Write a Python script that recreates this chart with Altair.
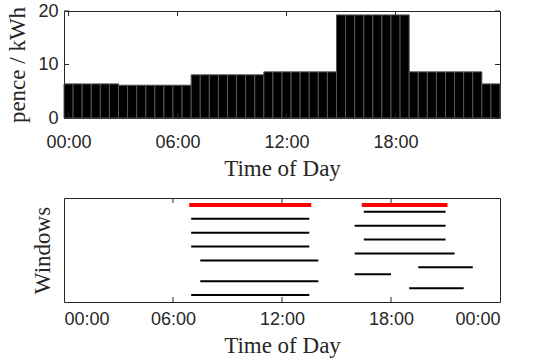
import altair as alt
import pandas as pd

# ---- data ----
# half-hourly price bars (bar centres, hours) and prices (pence/kWh)
bar_hours = [i * 0.5 for i in range(48)]
prices = ([6.37] * 6 + [6.13] * 8 + [8.07] * 8 + [8.63] * 8 +
          [19.27] * 8 + [8.63] * 8 + [6.37] * 2)

# charging windows (start hour, end hour, row, kind)
win_start = [7.0, 16.5, 16.5, 7.0, 16.0, 7.0, 16.5, 7.0, 16.0, 7.5, 19.5, 16.0, 7.5, 19.0, 7.0]
win_end   = [13.5, 21.0, 21.0, 13.5, 21.0, 13.5, 21.0, 13.5, 21.5, 14.0, 22.5, 18.0, 14.0, 22.0, 13.5]
win_row   = [14, 14, 13, 12, 11, 10, 9, 8, 7, 6, 5, 4, 3, 2, 1]
win_kind  = ["opt", "opt"] + ["ev"] * 13

top_ticks = [0, 6, 12, 18]
top_yticks = [0, 10, 20]
bot_ticks = [0, 6, 12, 18, 24]
bot_inner = [6, 12, 18]

FRAME = "#262626"
W = 436
H1, H2 = 107, 104
label_expr = "(datum.value % 24 < 10 ? '0' : '') + (datum.value % 24) + ':00'"
SANS = "Liberation Sans"
SERIF = "Liberation Serif"

bars = pd.DataFrame({"t": bar_hours, "p": prices})
bars["t0"] = bars["t"] - 0.25
bars["t1"] = bars["t"] + 0.25

xs_top = alt.Scale(domain=[-0.25, 23.75], nice=False, zero=False)
ys_top = alt.Scale(domain=[0, 20], nice=False)

x_axis_top = alt.Axis(values=top_ticks, labelExpr=label_expr, ticks=False, domain=False,
                      grid=False, labelPadding=15, title="Time of Day", titlePadding=6)

top_bars = alt.Chart(bars).mark_rect(color="black", stroke="#555555", strokeWidth=1).encode(
    x=alt.X("t0:Q", scale=xs_top, axis=x_axis_top),
    x2="t1",
    y=alt.Y("p:Q", scale=ys_top,
            axis=alt.Axis(values=top_yticks, ticks=False, domain=False, grid=False,
                          labelPadding=6, title="pence / kWh", titlePadding=8)),
    y2=alt.datum(0),
)

tx = pd.DataFrame({"t": top_ticks})
ty = pd.DataFrame({"v": top_yticks})
tick_style = dict(color=FRAME, strokeWidth=1)
top_xt_b = alt.Chart(tx).mark_rule(**tick_style).encode(
    x=alt.X("t:Q", scale=xs_top), y=alt.value(H1), y2=alt.value(H1 - 5))
top_xt_t = alt.Chart(tx).mark_rule(**tick_style).encode(
    x=alt.X("t:Q", scale=xs_top), y=alt.value(0), y2=alt.value(5))
top_yt_l = alt.Chart(ty).mark_rule(**tick_style).encode(
    y=alt.Y("v:Q", scale=ys_top), x=alt.value(0), x2=alt.value(5))
top_yt_r = alt.Chart(ty).mark_rule(**tick_style).encode(
    y=alt.Y("v:Q", scale=ys_top), x=alt.value(W - 5), x2=alt.value(W))

top = alt.layer(top_bars, top_xt_b, top_xt_t, top_yt_l, top_yt_r).properties(width=W, height=H1)

# ---- bottom ----
win = pd.DataFrame({"s": win_start, "e": win_end, "r": win_row, "k": win_kind})
xs_bot = alt.Scale(domain=[0, 24], nice=False, zero=False)
ys_bot = alt.Scale(domain=[0, 15], nice=False)

x_axis_bot = alt.Axis(values=bot_ticks, labelExpr=label_expr, ticks=False, domain=False,
                      grid=False, labelPadding=8, title="Time of Day", titlePadding=6)

ev = alt.Chart(win).transform_filter("datum.k == 'ev'").mark_rule(
    color="black", strokeWidth=2, strokeCap="butt").encode(
    x=alt.X("s:Q", scale=xs_bot, axis=x_axis_bot),
    x2="e",
    y=alt.Y("r:Q", scale=ys_bot,
            axis=alt.Axis(labels=False, ticks=False, domain=False, grid=False,
                          title="Windows", titlePadding=10)),
)
opt = alt.Chart(win).transform_filter("datum.k == 'opt'").mark_rule(
    color="#ff0000", strokeWidth=4, strokeCap="square").encode(
    x=alt.X("s:Q", scale=xs_bot), x2="e", y=alt.Y("r:Q", scale=ys_bot))

bx = pd.DataFrame({"t": bot_inner})
bot_xt_b = alt.Chart(bx).mark_rule(**tick_style).encode(
    x=alt.X("t:Q", scale=xs_bot), y=alt.value(H2), y2=alt.value(H2 - 5))
bot_xt_t = alt.Chart(bx).mark_rule(**tick_style).encode(
    x=alt.X("t:Q", scale=xs_bot), y=alt.value(0), y2=alt.value(5))

bottom = alt.layer(ev, opt, bot_xt_b, bot_xt_t).properties(width=W, height=H2)

chart = alt.vconcat(top, bottom, spacing=16).properties(
    padding={"left": 6, "top": 1, "right": 14, "bottom": 4}
).configure_view(
    stroke=FRAME, strokeWidth=1
).configure_axis(
    labelFont=SANS, labelFontSize=18, labelColor="#262626",
    titleFont=SERIF, titleFontSize=23, titleFontWeight="normal", titleColor="#262626",
)

chart.save("out.html", embed_options={"renderer": "svg", "actions": False})
